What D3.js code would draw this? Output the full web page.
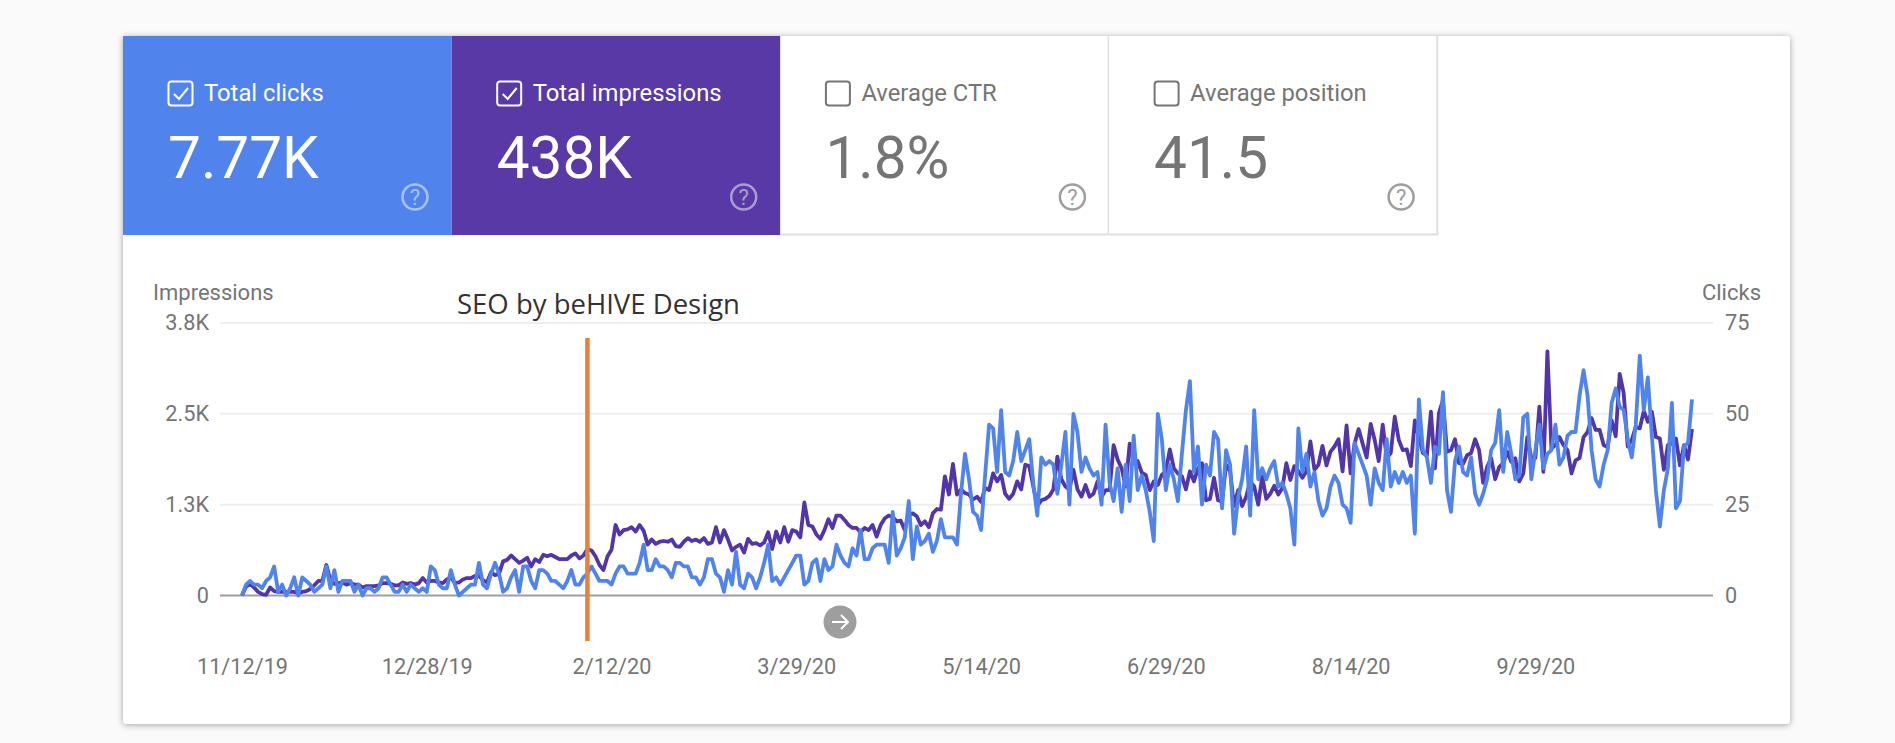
<!DOCTYPE html>
<html>
<head>
<meta charset="utf-8">
<script src="https://cdn.jsdelivr.net/npm/d3@7"></script>
<style>
    body { margin: 0; background: #fafafa; font-family: Roboto, sans-serif; }
    svg { display: block; }
    .axis path, .axis line { display: none; }
    .axis text { font-family: Roboto, sans-serif; font-size: 21.7px; fill: #757575; }
</style>
</head>
<body>
<div id="chart"></div>
<script>
/** Dimensions of the page. */
const WIDTH = 1895;
const HEIGHT = 743;

/** Plot area, in pixels. */
const PLOT_LEFT = 242;
const PLOT_RIGHT = 1692;
const PLOT_TOP = 323;
const PLOT_BOTTOM = 595.5;

/** Size of one metric tile. */
const TILE_WIDTH = 328.7;
const TILE_LEFT = 123;
const TILE_TOP = 36;
const TILE_HEIGHT = 199;

const BLUE = "#5084ec";
const PURPLE = "#5839a5";
const GREY = "#757575";

// Metric tiles
const tileNames = ["Total clicks", "Total impressions", "Average CTR", "Average position"];
const tileValues = ["7.77K", "438K", "1.8%", "41.5"];
const tileChecked = [true, true, false, false];
const tileColors = [BLUE, PURPLE, null, null];

// Axes
const startDate = "11/12/19";
const markerDate = "2/6/20";
const markerLabel = "SEO by beHIVE Design";
const dateTicks = ["11/12/19", "12/28/19", "2/12/20", "3/29/20", "5/14/20", "6/29/20", "8/14/20", "9/29/20"];
const impressionTicks = [0, 1250, 2500, 3750];
const impressionTickLabels = ["0", "1.3K", "2.5K", "3.8K"];
const clickTicks = [0, 25, 50, 75];

// Daily clicks
const clicks = [
    0,3,4,3,3,2,4,5,8,1, 3,0,2,5,0,5,4,3,1,2, 3,8,2,7,1,4,4,4,1,3, 0,2,2,1,2,5,5,3,1,1,
    3,1,3,2,1,2,1,8,7,3, 2,2,7,3,0,1,2,3,3,9, 3,2,6,9,6,1,2,5,7,1, 8,8,4,2,7,7,6,4,4,3,
    2,4,7,3,3,5,6,8,6,
    4,4,4,3,6,8,8,6,6,6, 9,14,7,7,10,8,8,7,5,9, 9,8,8,5,5,3,5,10,10,6, 5,1,7,3,12,3,2,6,5,2,
    5,9,14,4,5,3,5,7,9,11, 11,3,4,9,10,4,10,7,8,14, 11,9,8,13,11,18,10,10,13,14, 14,14,9,23,11,13,16,26,10,19,
    14,15,17,12,15,21,16,16,16,14, 28,39,32,23,22,18,33,47,46,34, 51,
    34,33,37,45,37,40,43,31,22,38, 36,37,36,28,36,45,25,50,45,34, 38,35,33,34,25,47,31,26,35,23,
    36,26,44,29,33,29,23,15,50,43, 29,36,32,26,39,51,59,34,41,25, 36,33,45,43,24,40,36,17,27,32,
    41,22,51,32,35,32,35,37,30,31, 28,24,14,46,34,39,30,34,26,22, 24,30,33,31,25,24,20,
    42,39,36,33,25,35,31,29,43,30, 34,31,34,31,33,17,54,40,38,31, 41,39,56,29,23,37,41,34,33,38,
    28,25,28,32,40,42,51,34,45,39, 32,33,49,50,32,40,47,35,39,40, 47,36,38,44,45,45,55,62,55,40,
    32,30,36,40,53,57,52,51,43,38, 47,66,51,60,44,29,19,29,35,53, 24,26,41,42,54
];

// Daily impressions
const impressions = [
    0,120,160,110,50,20,10,110,60,50, 50,50,50,50,30,50,60,90,140,200, 200,420,210,160,170,180,150,170,150,150,
    110,130,130,130,140,170,170,160,140,140, 180,160,170,150,170,240,180,200,200,180, 170,220,250,170,180,220,240,240,270,270,
    210,180,320,280,300,470,490,550,500,450, 480,520,400,500,460,560,540,560,530,500, 500,500,550,580,510,550,640,620,540,
    420,350,540,630,970,840,900,910,940,880, 970,890,700,770,710,740,750,740,770,680, 670,740,790,750,770,740,790,710,730,940,
    730,900,770,620,670,700,590,780,710,720, 690,730,870,640,880,730,940,740,900,880, 800,1280,970,950,840,780,900,1050,930,1100,
    1100,1040,970,930,930,870,930,900,970,810, 970,1060,1100,1080,1020,1030,900,1110,1130,1090, 970,1020,940,1130,1190,1180,1640,1390,1810,1390,
    1460,1410,1390,1320,1360,1290,1480,1450,1680,1570, 1660,
    1400,1330,1400,1570,1460,1800,1780,1500,1230,1310, 1330,1370,1460,1910,1600,1500,1460,1730,1460,1360, 1520,1360,1400,1570,1360,1450,1450,2070,1870,1750,
    1500,2090,1820,1850,1690,1660,1450,1570,1520,1660, 1710,2010,1750,1680,1640,1460,1710,1570,1750,1820, 1310,1330,1620,1310,1290,1800,1710,1230,1450,1230,
    1360,1570,1500,1250,1640,1330,1400,1510,1390,1480, 1820,1590,1780,1710,1620,1710,2120,1730,1800,2060, 1790,1980,2050,2150,1710,2340,1680,
    2090,2290,2090,1900,2360,2140,1850,2350,1890,1960, 2460,2140,2000,2010,1780,2410,2180,1960,1930,2530, 1750,2510,2690,1980,2000,2150,1820,1810,1930,1960,
    2150,2000,1550,1770,1890,1600,1770,1820,1980,1840, 1890,1570,1680,2180,1890,1890,2600,1700,3360,2020, 2070,2180,2070,2000,1680,1860,1890,2180,2250,2440,
    2280,2280,2070,2040,2410,2190,3050,2780,2050,2140, 2320,2300,2540,2390,2530,2180,2160,1730,2070,2090, 2160,1790,2070,1870,2290
];

const parseDate = d3.utcParse("%m/%d/%y");
const formatDate = d3.utcFormat("%-m/%-d/%y");
const dayOf = (i) => d3.utcDay.offset(parseDate(startDate), i);

let svg = d3.select("#chart").append("svg")
    .attr("width", WIDTH)
    .attr("height", HEIGHT);

// White card
svg.append("rect")
    .attr("x", TILE_LEFT)
    .attr("y", TILE_TOP)
    .attr("width", 1667)
    .attr("height", 688)
    .attr("rx", 3)
    .attr("fill", "white")
    .style("filter", "drop-shadow(0 1px 3px rgba(0,0,0,0.35))");

// Metric tiles
const tiles = svg.selectAll(".tile")
    .data(tileNames)
    .enter()
    .append("g")
    .attr("class", "tile")
    .attr("transform", (_, i) => `translate(${TILE_LEFT + i * TILE_WIDTH},${TILE_TOP})`);

tiles.append("rect")
    .attr("width", TILE_WIDTH)
    .attr("height", TILE_HEIGHT)
    .attr("fill", (_, i) => tileColors[i] || "white");

// Bottom and right rules on the unselected tiles
tiles.filter((_, i) => !tileColors[i]).append("path")
    .attr("d", `M${TILE_WIDTH - 0.5},0V${TILE_HEIGHT - 0.5}H0`)
    .attr("fill", "none")
    .attr("stroke", "#e0e0e0")
    .attr("stroke-width", 2);

const ink = (i) => tileChecked[i] ? "white" : GREY;

// Checkbox
tiles.append("rect")
    .attr("x", 45.5)
    .attr("y", 45.5)
    .attr("width", 24)
    .attr("height", 24)
    .attr("rx", 3)
    .attr("fill", "none")
    .attr("stroke", (_, i) => ink(i))
    .attr("stroke-width", 2);

tiles.filter((_, i) => tileChecked[i]).append("path")
    .attr("d", "M51,58l5,5l9,-11")
    .attr("fill", "none")
    .attr("stroke", "white")
    .attr("stroke-width", 2);

tiles.append("text")
    .attr("x", 81)
    .attr("y", 65)
    .attr("font-size", 23.8)
    .attr("fill", (_, i) => ink(i))
    .text(d => d);

tiles.append("text")
    .attr("x", 45)
    .attr("y", 142)
    .attr("font-size", 58.5)
    .attr("fill", (_, i) => ink(i))
    .text((_, i) => tileValues[i]);

// Help icon
tiles.append("circle")
    .attr("cx", 292)
    .attr("cy", 161)
    .attr("r", 12.5)
    .attr("fill", "none")
    .attr("stroke", (_, i) => tileChecked[i] ? "rgba(255,255,255,0.5)" : "#9e9e9e")
    .attr("stroke-width", 2.5);

tiles.append("text")
    .attr("x", 292)
    .attr("y", 169)
    .attr("text-anchor", "middle")
    .attr("font-size", 22)
    .attr("fill", (_, i) => tileChecked[i] ? "rgba(255,255,255,0.5)" : "#9e9e9e")
    .text("?");

// Scales
const x = d3.scaleUtc()
    .domain([parseDate(startDate), dayOf(clicks.length - 1)])
    .range([PLOT_LEFT, PLOT_RIGHT]);

const yImpressions = d3.scaleLinear()
    .domain([0, 3750])
    .range([PLOT_BOTTOM, PLOT_TOP]);

const yClicks = d3.scaleLinear()
    .domain([0, 75])
    .range([PLOT_BOTTOM, PLOT_TOP]);

// Grid lines
svg.append("g")
    .selectAll("line")
    .data(clickTicks)
    .enter()
    .append("line")
    .attr("x1", 220)
    .attr("x2", 1713)
    .attr("y1", d => yClicks(d))
    .attr("y2", d => yClicks(d))
    .attr("stroke-width", 2)
    .attr("stroke", d => d === 0 ? "#9e9e9e" : "#eeeeee");

// Axes
svg.append("g")
    .attr("class", "axis")
    .attr("transform", "translate(220,0)")
    .call(d3.axisLeft(yImpressions)
        .tickValues(impressionTicks)
        .tickFormat((_, i) => impressionTickLabels[i])
        .tickSize(0)
        .tickPadding(11));

svg.append("g")
    .attr("class", "axis")
    .attr("transform", "translate(1713,0)")
    .call(d3.axisRight(yClicks)
        .tickValues(clickTicks)
        .tickSize(0)
        .tickPadding(12));

svg.append("g")
    .attr("class", "axis")
    .attr("transform", "translate(0,659)")
    .call(d3.axisBottom(x)
        .tickValues(dateTicks.map(parseDate))
        .tickFormat(formatDate)
        .tickSize(0)
        .tickPadding(0));

svg.append("text")
    .attr("x", 153)
    .attr("y", 300)
    .attr("font-size", 22)
    .attr("fill", GREY)
    .text("Impressions");

svg.append("text")
    .attr("x", 1761)
    .attr("y", 300)
    .attr("text-anchor", "end")
    .attr("font-size", 22)
    .attr("fill", GREY)
    .text("Clicks");

// Series lines, clicks on top
const lineImpressions = d3.line()
    .x((_, i) => x(dayOf(i)))
    .y(d => yImpressions(d))
    .curve(d3.curveLinear);

const lineClicks = d3.line()
    .x((_, i) => x(dayOf(i)))
    .y(d => yClicks(d))
    .curve(d3.curveLinear);

svg.append("path")
    .datum(impressions)
    .attr("d", lineImpressions)
    .attr("fill", "none")
    .attr("stroke", "#5235a8")
    .attr("stroke-width", 3.8)
    .attr("stroke-linejoin", "round");

svg.append("path")
    .datum(clicks)
    .attr("d", lineClicks)
    .attr("fill", "none")
    .attr("stroke", BLUE)
    .attr("stroke-width", 3.8)
    .attr("stroke-linejoin", "round");

// Annotation line
const markerX = x(parseDate(markerDate));
svg.append("line")
    .attr("x1", markerX)
    .attr("x2", markerX)
    .attr("y1", 338)
    .attr("y2", 641)
    .attr("stroke", "#e8803a")
    .attr("stroke-width", 4.5);

svg.append("text")
    .attr("x", 457)
    .attr("y", 314)
    .attr("font-family", "'Open Sans', sans-serif")
    .attr("font-size", 27.5)
    .attr("fill", "#333")
    .text(markerLabel);

// Scroll arrow
const arrow = svg.append("g").attr("transform", "translate(840,622)");
arrow.append("circle")
    .attr("r", 16.5)
    .attr("fill", "#9e9e9e");
arrow.append("path")
    .attr("d", "M-8,0H7M1,-7L8,0L1,7")
    .attr("fill", "none")
    .attr("stroke", "white")
    .attr("stroke-width", 2);
</script>
</body>
</html>
